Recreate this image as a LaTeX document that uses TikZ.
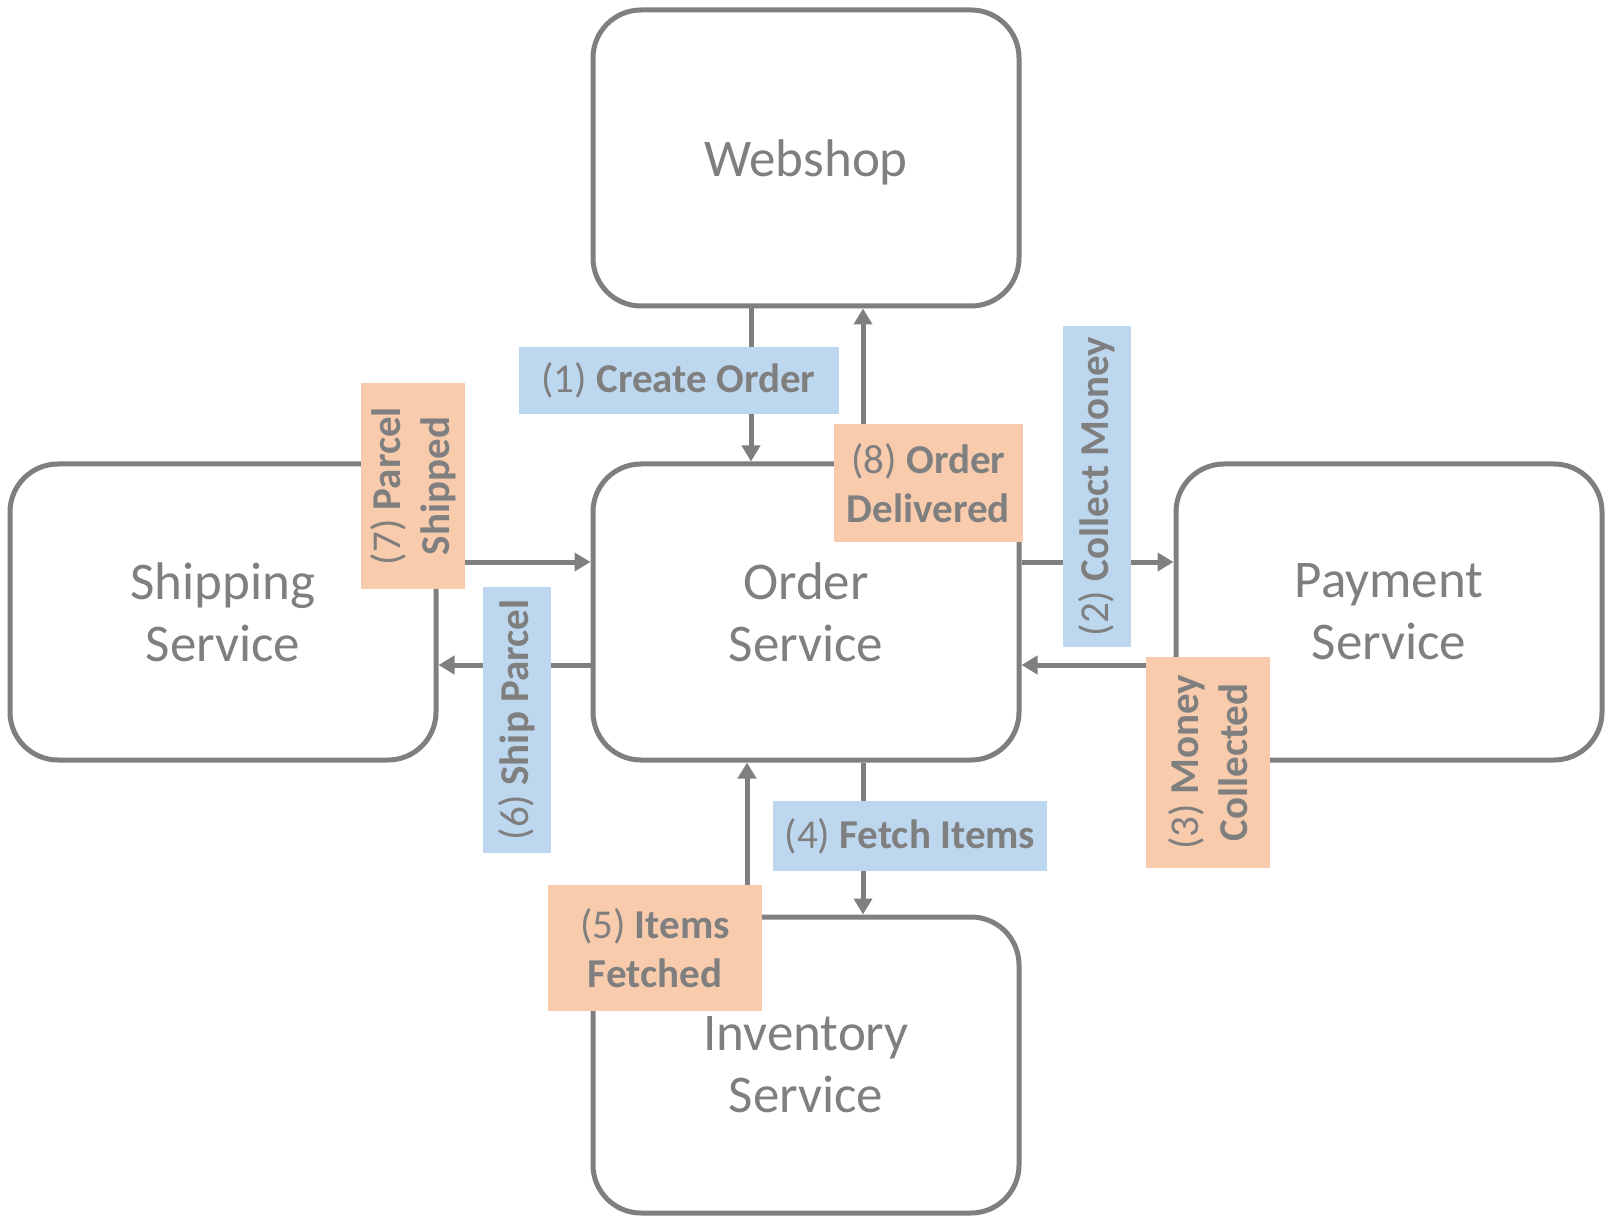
\documentclass[tikz,border=0pt]{standalone}
\usepackage{fontspec}
\setmainfont{Carlito}
\usetikzlibrary{arrows.meta,calc}
\definecolor{gr}{HTML}{7F7F7F}
\definecolor{lblue}{HTML}{BDD7EE}
\definecolor{lorange}{HTML}{F8CBAD}
\begin{document}
\begin{tikzpicture}[x=0.5pt,y=-0.5pt,
  svc/.style={draw=gr,line width=2.5pt,rounded corners=24pt,minimum width=213pt,minimum height=148pt,inner sep=0pt,text=gr,align=center,font=\fontsize{26.5}{31}\selectfont},
  lbl/.style={inner sep=0pt,text=gr,align=center,font=\fontsize{20.5}{24.5}\selectfont},
  bl/.style={lbl,fill=lblue},
  orl/.style={lbl,fill=lorange},
  arr/.style={draw=gr,line width=2.5pt,-{Triangle[width=9pt,length=8pt]}}]
\useasboundingbox (0,0) rectangle (1610,1224);
% services
\node[svc,text depth=0pt] (web) at (806,158) {Webshop};
\node[svc] (order) at (806,612) {Order\\Service};
\node[svc] (ship) at (223,612) {Shipping\\Service};
\node[svc] (pay) at (1389,612) {Payment\\Service};
\node[svc] (inv) at (806,1065) {Inventory\\Service};
% connectors
\draw[arr] ($(web.south)+(-55,0)$) -- ($(order.north)+(-55,0)$);
\draw[arr] ($(order.north)+(57,0)$) -- ($(web.south)+(57,0)$);
\draw[arr] ($(order.east)+(0,-50)$) -- ($(pay.west)+(0,-50)$);
\draw[arr] ($(pay.west)+(0,53)$) -- ($(order.east)+(0,53)$);
\draw[arr] ($(order.south)+(57,0)$) -- ($(inv.north)+(57,0)$);
\draw[arr] ($(inv.north)+(-59,0)$) -- ($(order.south)+(-59,0)$);
\draw[arr] ($(order.west)+(0,53)$) -- ($(ship.east)+(0,53)$);
\draw[arr] ($(ship.east)+(0,-50)$) -- ($(order.west)+(0,-50)$);
% labels
\node[bl,minimum width=160pt,minimum height=33.5pt] (l1) at (678.5,380.5) {(1) \textbf{Create Order}};
\node[orl,minimum width=94.5pt,minimum height=59pt] (l8) at (928.5,483) {(8) \textbf{Order}\\\textbf{Delivered}};
\node[bl,rotate=90,minimum width=160.5pt,minimum height=34pt] (l2) at (1097,486.5) {(2) \textbf{Collect Money}};
\node[orl,rotate=90,minimum width=105.5pt,minimum height=62pt] (l3) at (1208,762.5) {(3) \textbf{Money}\\\textbf{Collected}};
\node[bl,minimum width=137pt,minimum height=35pt] (l4) at (910,836) {(4) \textbf{Fetch Items}};
\node[orl,minimum width=107pt,minimum height=63pt] (l5) at (655,948) {(5) \textbf{Items}\\\textbf{Fetched}};
\node[bl,rotate=90,minimum width=133pt,minimum height=34pt] (l6) at (517,720) {(6) \textbf{Ship Parcel}};
\node[orl,rotate=90,minimum width=103pt,minimum height=52pt] (l7) at (413,486) {(7) \textbf{Parcel}\\\textbf{Shipped}};
\end{tikzpicture}
\end{document}
